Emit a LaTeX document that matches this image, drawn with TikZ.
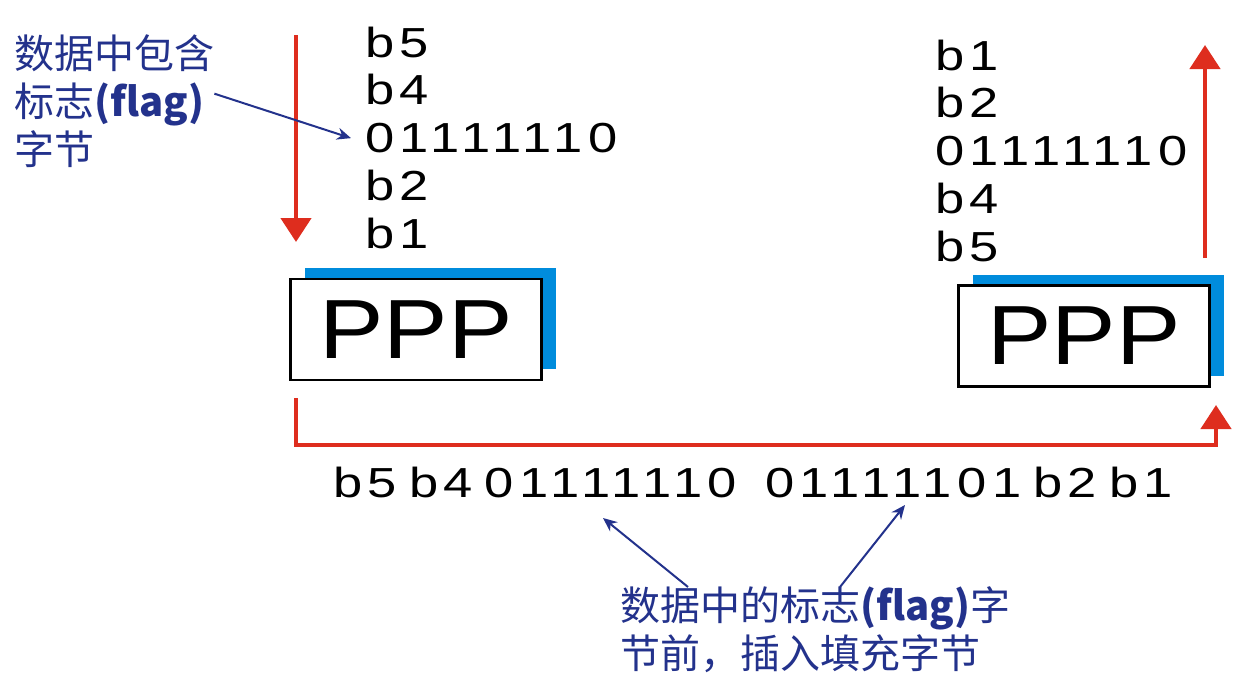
\documentclass[tikz,border=0pt]{standalone}
\usepackage{fontspec}
\setmainfont{Liberation Sans}
\newfontfamily\bitfont[FakeStretch=1.25,LetterSpace=13]{Liberation Sans}
\newfontfamily\pppfont[FakeStretch=1.15]{Liberation Sans}
\newfontfamily\cjk{Noto Sans CJK SC}
\newcommand\bitgap{\hspace{12pt}}
\usetikzlibrary{arrows.meta,positioning,shadows}
\definecolor{wirered}{RGB}{222,45,30}
\definecolor{pppblue}{RGB}{0,140,220}
\definecolor{notenavy}{RGB}{35,50,140}
\tikzset{
  bits/.style={anchor=base west, inner sep=0pt, font=\bitfont\fontsize{42}{42}\selectfont},
  pppbox/.style={draw=black, line width=2.5pt, fill=white, minimum width=251pt, minimum height=101pt,
    font=\pppfont\fontsize{84}{84}\selectfont,
    drop shadow={shadow xshift=14pt, shadow yshift=11pt, fill=pppblue, opacity=1}},
  flow/.style={wirered, line width=4.5pt, -{Triangle[width=30pt,length=24pt]}},
  note/.style={notenavy, inner sep=0pt, align=left, font=\cjk\fontsize{40}{48}\selectfont},
  pointer/.style={notenavy, line width=2pt, -{Stealth[width=12pt,length=14pt]}},
}
\begin{document}
\begin{tikzpicture}[x=1pt,y=-1pt]
    \useasboundingbox (0,0) rectangle (1247,691);
    \fill[white] (0,0) rectangle (1247,691);

    % sender side
    \foreach \t [count=\i] in {b5,b4,01111110,b2,b1}
        \node[bits] (in\i) at (365,{57+47.8*(\i-1)}) {\t};
    \coordinate (inTop) at (296,35);
    \coordinate (inEnd) at (296,242);
    \draw[flow] (inTop) -- (inEnd);
    \node[pppbox] (pppL) at (416,329.5) {PPP};

    % receiver side
    \foreach \t [count=\i] in {b1,b2,01111110,b4,b5}
        \node[bits] (out\i) at (935,{70+47.8*(\i-1)}) {\t};
    \coordinate (outStart) at (1205,258);
    \coordinate (outTop) at (1205,45);
    \draw[flow] (outStart) -- (outTop);
    \node[pppbox] (pppR) at (1084,336) {PPP};

    % link
    \coordinate (sendDrop) at (296,398);
    \coordinate (recvRise) at (1216,405);
    \draw[flow] (sendDrop) -- ++(0,47) -| (recvRise);
    \node[bits] (stuffed) at (333,497) {b5\bitgap b4\bitgap 01111110\bitgap\bitgap\hspace{4pt}01111101\bitgap b2\bitgap b1};

    % notes
    \node[note, anchor=north west] (flagNote) at (14,34) {数据中包含\\标志\textbf{(flag)}\\字节};
    \draw[pointer] ([yshift=7pt]flagNote.east) -- ([xshift=-14pt]in3.west);

    \node[note, anchor=north west] (stuffNote) at (620,586) {数据中的标志\textbf{(flag)}字\\节前，插入填充字节};
    \coordinate (escA) at (603,518);
    \coordinate (escB) at (905,505);
    \draw[pointer] ([xshift=68pt,yshift=-1pt]stuffNote.north west) -- (escA);
    \draw[pointer] ([xshift=220pt,yshift=-1pt]stuffNote.north west) -- (escB);
\end{tikzpicture}
\end{document}
